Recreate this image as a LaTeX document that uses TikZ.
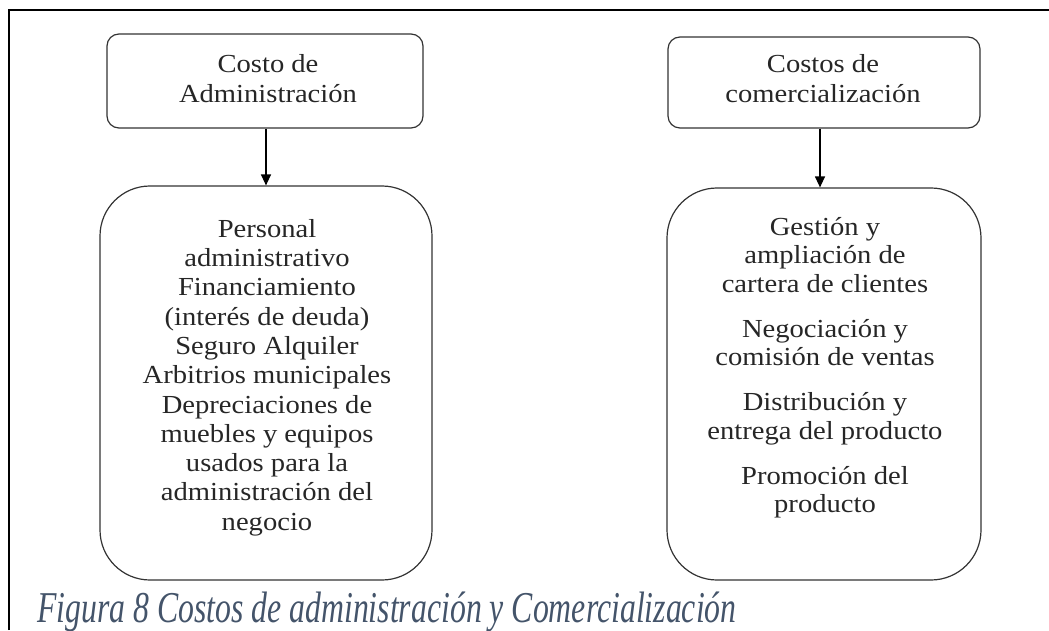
\documentclass[tikz,border=0pt]{standalone}
\usepackage{fontspec}
\setmainfont{Liberation Serif}
\usetikzlibrary{arrows.meta}
\definecolor{boxline}{HTML}{333333}
\definecolor{capblue}{HTML}{44546A}
\tikzset{
  topbox/.style={draw=boxline, line width=1.2pt, rounded corners=12pt, inner sep=0pt},
  bigbox/.style={draw=boxline, line width=1.2pt, rounded corners=50pt, inner sep=0pt},
  boxtext/.style={align=center, inner sep=0pt, anchor=north, xscale=1.1, text=black!85, font=\fontsize{26}{29.3}\selectfont},
  toptext/.style={align=center, inner sep=0pt, anchor=north, xscale=1.1, text=black!85, font=\fontsize{26}{30}\selectfont},
  link/.style={line width=1.3pt, -{Triangle[length=11pt,width=10pt]}},
  frame/.style={line width=2.5pt}
}
\begin{document}
\begin{tikzpicture}[x=1pt,y=1pt]
\useasboundingbox (0,0) rectangle (1049,630);
% frame (left and top)
\draw[frame] (9,0) -- (9,620) -- (1049,620);
% boxes (y_tikz = 630 - y_img)
\node[topbox, minimum width=316pt, minimum height=94pt] (ta) at (265,549) {};
\node[topbox, minimum width=312pt, minimum height=91pt] (tc) at (824,547.5) {};
\node[bigbox, minimum width=332pt, minimum height=394pt] (ba) at (266,247) {};
\node[bigbox, minimum width=314pt, minimum height=392pt] (bc) at (824,246) {};
% texts
\node[toptext] (tat) at (268,630-54) {Costo de\\Administración};
\node[toptext] (tct) at (823,630-54) {Costos de\\comercialización};
\node[boxtext] (bat) at (267,630-219) {Personal\\administrativo\\Financiamiento\\(interés de deuda)\\Seguro Alquiler\\Arbitrios municipales\\Depreciaciones de\\muebles y equipos\\usados para la\\administración del\\negocio};
\node[boxtext, font=\fontsize{26}{28.5}\selectfont] (bct) at (825,630-217) {Gestión y\\ampliación de\\cartera de clientes\\[16.5pt]Negociación y\\comisión de ventas\\[16.5pt]Distribución y\\entrega del producto\\[16.5pt]Promoción del\\producto};
% connectors
\draw[link] (ta.south -| 266,0) -- (ba.north -| 266,0);
\draw[link] (tc.south -| 820,0) -- (bc.north -| 820,0);
% caption
\node[anchor=base west, inner sep=0pt, text=capblue, font=\fontsize{44}{44}\selectfont\itshape, xscale=0.722] (cap) at (37,8) {Figura 8 Costos de administración y Comercialización};
\end{tikzpicture}
\end{document}
